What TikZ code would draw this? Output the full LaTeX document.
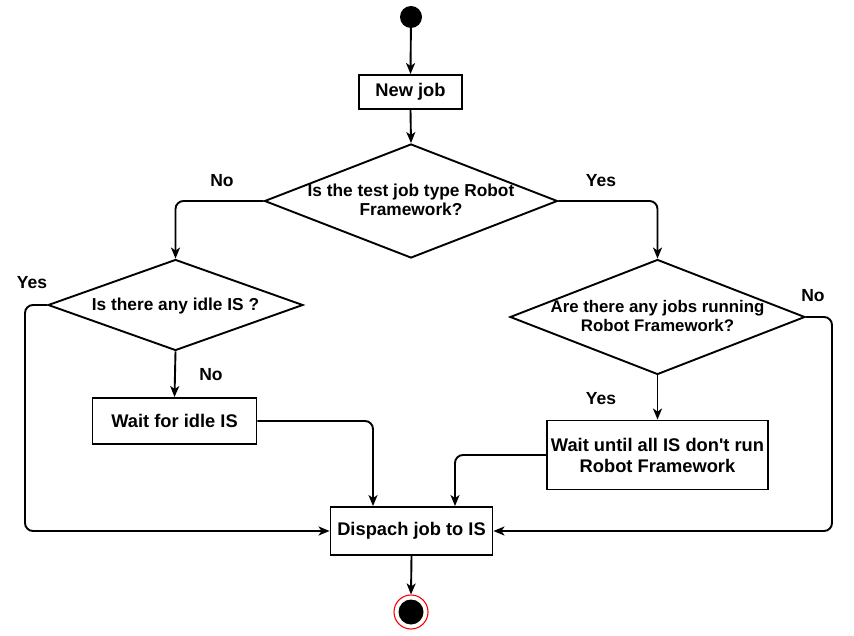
\documentclass[tikz,border=0pt]{standalone}
\usepackage{fontspec}
\setmainfont{Liberation Sans}[Ligatures=TeXOff]
\usetikzlibrary{arrows.meta,shapes.geometric}
\begin{document}
\begin{tikzpicture}[x=1pt,y=-1pt,
  every node/.style={font=\bfseries\fontsize{18.3}{21}\selectfont},
  box/.style={draw,line width=1.9pt,rectangle,inner sep=0pt,align=center},
  dia/.style={draw,line width=1.9pt,diamond,inner sep=0pt},
  lab/.style={font=\bfseries\fontsize{17.5}{20}\selectfont},
  arr/.style={line width=1.9pt,-{Stealth[length=11pt,width=9pt,inset=3pt]},rounded corners=8pt}]
\useasboundingbox (0,0) rectangle (854,636);
\node[circle,fill=black,minimum size=22pt,inner sep=0pt] (start) at (411,17) {};
\node[box,minimum width=103pt,minimum height=34pt] (newjob) at (410.5,92) {New job};
\node[dia,minimum width=293pt,minimum height=114pt] (d1) at (411,201)
  {\smash{\makebox[0pt]{\raisebox{-6pt}{\fontsize{17.3}{19}\selectfont\begin{tabular}{@{}c@{}}Is the test job type Robot\\Framework?\end{tabular}}}}};
\node[dia,minimum width=255pt,minimum height=91pt] (d2) at (175.5,305)
  {\smash{\makebox[0pt]{\raisebox{-6pt}{\fontsize{17.3}{19}\selectfont Is there any idle IS ?}}}};
\node[dia,minimum width=295pt,minimum height=115pt] (d3) at (657.5,317)
  {\smash{\makebox[0pt]{\raisebox{-6pt}{\fontsize{16.8}{19}\selectfont\begin{tabular}{@{}c@{}}Are there any jobs running\\Robot Framework?\end{tabular}}}}};
\node[box,minimum width=164pt,minimum height=46pt] (wait1) at (174.5,421) {Wait for idle IS};
\node[box,minimum width=221pt,minimum height=69pt] (wait2) at (657.5,455) {Wait until all IS don't run\\Robot Framework};
\node[box,minimum width=162pt,minimum height=48pt] (disp) at (411.5,531) {Dispach job to IS};
\node[circle,draw=red,line width=1.1pt,fill=white,minimum size=34pt,inner sep=0pt] (end) at (411,612) {};
\node[circle,fill=black,minimum size=25pt,inner sep=0pt] (endin) at (end.center) {};
\coordinate (cl) at (25,531);
\coordinate (cr) at (832,531);
\draw[arr] (start) -- (newjob.north);
\draw[arr] (newjob.south) -- (d1.north);
\draw[arr] (d1.west) -| (d2.north);
\draw[arr] (d1.east) -| (d3.north);
\draw[arr] (d2.west) -| (cl) -- (disp.west);
\draw[arr] (d2.south) -- (wait1.north);
\draw[arr] (wait1.east) -| ([xshift=-38.5pt]disp.north);
\draw[arr] (d3.east) -| (cr) -- (disp.east);
\draw[arr] (d3.south) -- (wait2.north);
\draw[arr] (wait2.west) -| ([xshift=43.5pt]disp.north);
\draw[arr] (disp.south) -- (end.north);
\node[lab] (l1) at (222,181) {No};
\node[lab] (l2) at (601,181) {Yes};
\node[lab] (l3) at (32,283) {Yes};
\node[lab] (l4) at (211,375) {No};
\node[lab] (l5) at (813,296) {No};
\node[lab] (l6) at (601,399) {Yes};
\end{tikzpicture}
\end{document}
